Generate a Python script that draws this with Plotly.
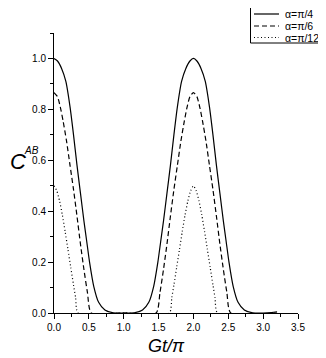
import plotly.graph_objects as go

# concurrence C^AB against Gt/pi
t_pi4 = [0, 0.05, 0.11, 0.17, 0.23, 0.28, 0.33, 0.38, 0.43, 0.47, 0.51, 0.57, 0.64, 0.73, 0.85, 1.0,
         1.15, 1.27, 1.36, 1.43, 1.49, 1.53, 1.57, 1.62, 1.67, 1.72, 1.77, 1.83, 1.89, 1.95, 2.0,
         2.05, 2.11, 2.17, 2.23, 2.28, 2.33, 2.38, 2.43, 2.47, 2.51, 2.57, 2.64, 2.73, 2.85, 3.0, 3.12, 3.2]
c_pi4 = [1.0, 0.99, 0.96, 0.91, 0.81, 0.70, 0.58, 0.47, 0.36, 0.28, 0.20, 0.105, 0.042, 0.012, 0.001, 0,
         0.001, 0.012, 0.042, 0.105, 0.20, 0.28, 0.36, 0.47, 0.58, 0.70, 0.81, 0.91, 0.96, 0.99, 1.0,
         0.99, 0.96, 0.91, 0.81, 0.70, 0.58, 0.47, 0.36, 0.28, 0.20, 0.105, 0.042, 0.012, 0.001, 0, 0.002, 0.005]

t_pi6 = [0, 0.05, 0.09, 0.13, 0.18, 0.23, 0.28, 0.33, 0.38, 0.43, 0.48, 0.535, 1.0,
         1.465, 1.52, 1.57, 1.62, 1.67, 1.72, 1.77, 1.82, 1.87, 1.91, 1.95, 2.0,
         2.05, 2.09, 2.13, 2.18, 2.23, 2.28, 2.33, 2.38, 2.43, 2.48, 2.535, 3.2]
c_pi6 = [0.866, 0.85, 0.81, 0.755, 0.675, 0.58, 0.485, 0.38, 0.27, 0.17, 0.08, 0, 0,
         0, 0.08, 0.17, 0.27, 0.38, 0.485, 0.58, 0.675, 0.755, 0.81, 0.85, 0.866,
         0.85, 0.81, 0.755, 0.675, 0.58, 0.485, 0.38, 0.27, 0.17, 0.08, 0, 0]

t_pi12 = [0, 0.04, 0.08, 0.12, 0.16, 0.20, 0.24, 0.28, 0.31, 0.345, 1.0,
          1.655, 1.69, 1.72, 1.76, 1.80, 1.84, 1.88, 1.92, 1.96, 2.0,
          2.04, 2.08, 2.12, 2.16, 2.20, 2.24, 2.28, 2.31, 2.345, 3.2]
c_pi12 = [0.5, 0.48, 0.44, 0.385, 0.32, 0.25, 0.18, 0.11, 0.06, 0, 0,
          0, 0.06, 0.11, 0.18, 0.25, 0.32, 0.385, 0.44, 0.48, 0.5,
          0.48, 0.44, 0.385, 0.32, 0.25, 0.18, 0.11, 0.06, 0, 0]

nombres = ["α=π/4", "α=π/6", "α=π/12"]
estilos = ["solid", "5px,3px", "1px,2.5px"]

FUENTE = "Liberation Sans, Arial"

# the page body keeps an 8px margin, so the figure is drawn 8px smaller
BORDE = 8
ANCHO, ALTO = 326 - BORDE, 358 - BORDE
# plot area in page pixels (left, right, top, bottom)
L, R, T, B = 54, 298, 33, 313


def px_x(p):
    return (p - L) / (R - L)


def px_y(p):
    return (B - p) / (B - T)


fig = go.Figure()
for t, c, nombre, estilo in zip([t_pi4, t_pi6, t_pi12], [c_pi4, c_pi6, c_pi12], nombres, estilos):
    fig.add_trace(go.Scatter(
        x=t, y=c, mode="lines", name=nombre, showlegend=False,
        line=dict(color="black", width=1.2, dash=estilo, shape="spline", smoothing=0.6)
    ))

eje = dict(
    showgrid=False, zeroline=False, showline=True, linecolor="black", linewidth=1,
    ticks="outside", ticklen=5, tickcolor="black", tickwidth=1,
    tickfont=dict(family=FUENTE, size=10, color="black"),
)

fig.update_layout(
    width=ANCHO, height=ALTO,
    margin=dict(l=L - BORDE, r=326 - R, t=T - BORDE, b=358 - B),
    paper_bgcolor="white", plot_bgcolor="white",
    xaxis=dict(eje, range=[0, 3.5], dtick=0.5, tickformat=".1f",
               minor=dict(dtick=0.25, ticks="outside", ticklen=3, tickcolor="black")),
    yaxis=dict(eje, range=[0, 1.1], tickvals=[0, 0.2, 0.4, 0.6, 0.8, 1.0], tickformat=".1f",
               minor=dict(dtick=0.1, ticks="outside", ticklen=3, tickcolor="black")),
    showlegend=False,
)

# legend box drawn by hand (top right, cut by the page edge like the original)
fig.add_shape(type="rect", xref="paper", yref="paper",
              x0=px_x(250.5), x1=px_x(325.5), y0=px_y(43), y1=px_y(-2),
              line=dict(color="black", width=1), fillcolor="white", layer="above")
filas = [14, 26, 37.5]
for fila, nombre, estilo in zip(filas, nombres, estilos):
    fig.add_shape(type="line", xref="paper", yref="paper",
                  x0=px_x(254), x1=px_x(279), y0=px_y(fila), y1=px_y(fila),
                  line=dict(color="black", width=1.2, dash=estilo), layer="above")
    fig.add_annotation(text=nombre, xref="paper", yref="paper", x=px_x(283), y=px_y(fila),
                       xanchor="left", yanchor="middle", showarrow=False,
                       font=dict(family=FUENTE, size=10.5, color="black"))

# y title: big italic C with a small italic AB superscript
fig.add_annotation(text="<i>C</i>", xref="paper", yref="paper",
                   x=px_x(8), y=px_y(161), xanchor="left", yanchor="middle", showarrow=False,
                   font=dict(family=FUENTE, size=22, color="black"))
fig.add_annotation(text="<i>AB</i>", xref="paper", yref="paper",
                   x=px_x(22), y=px_y(150), xanchor="left", yanchor="middle", showarrow=False,
                   font=dict(family=FUENTE, size=10, color="black"))
fig.add_annotation(text="<i>Gt/π</i>", xref="paper", yref="paper",
                   x=px_x(166), y=px_y(346), xanchor="center", yanchor="middle", showarrow=False,
                   font=dict(family=FUENTE, size=18, color="black"))

fig.write_html("out.html")
